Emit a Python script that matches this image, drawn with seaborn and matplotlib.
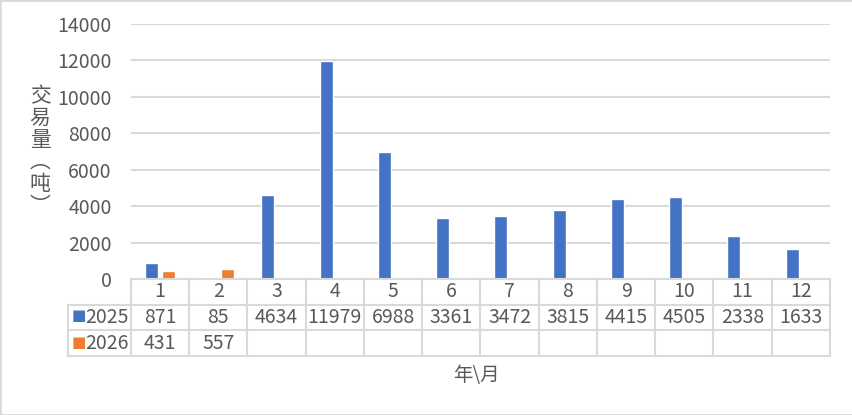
import numpy as np
import pandas as pd
import matplotlib
matplotlib.use("Agg")
import matplotlib.pyplot as plt
import seaborn as sns
from matplotlib.patches import Rectangle

# 数据
months = [str(m) for m in range(1, 13)]
vol_2025 = [871, 85, 4634, 11979, 6988, 3361, 3472, 3815, 4415, 4505, 2338, 1633]
vol_2026 = [431, 557] + [None] * 10
series = ["2025", "2026"]
colors = ["#4472C4", "#ED7D31"]
yticks = [0, 2000, 4000, 6000, 8000, 10000, 12000, 14000]

df = pd.DataFrame({
    "月": months * 2,
    "年": ["2025"] * 12 + ["2026"] * 12,
    "交易量": [np.nan if v is None else v for v in vol_2025 + vol_2026],
})

sns.set_theme(style="white")
plt.rcParams["font.family"] = ["Noto Sans CJK SC", "DejaVu Sans"]
txt = "#595959"
grid_c = "#D9D9D9"

W, H = 853, 415
fig = plt.figure(figsize=(W / 100, H / 100), dpi=100)
left, right, top, bottom = 131, 830, 24, 279
ax = fig.add_axes([left / W, 1 - bottom / H, (right - left) / W, (bottom - top) / H])

sns.barplot(data=df, x="月", y="交易量", hue="年", hue_order=series, order=months,
            palette=colors, saturation=1, width=0.6, gap=0.25, errorbar=None,
            ax=ax, legend=False)

fs = 14
ax.set_xlim(-0.5, 11.5)
ax.set_ylim(0, 14000)
ax.set_yticks(yticks)
ax.set_yticklabels([str(t) for t in yticks], fontsize=fs, color=txt)
ax.tick_params(axis="y", length=0, pad=14)
ax.set_xticks([])
ax.set_xlabel("")
ax.set_ylabel("")
for s in ax.spines.values():
    s.set_visible(False)
ax.yaxis.grid(True, color=grid_c, linewidth=1.5)
ax.set_axisbelow(True)

# 数据表
tr = ax.get_xaxis_transform()
row_h = 25.7 / (bottom - top)
rows_y = [0, -row_h, -2 * row_h, -3 * row_h]
leg_x = -0.5 - (left - 68) / ((right - left) / 12)
lk = dict(color=grid_c, linewidth=1.5, clip_on=False, transform=tr)
ax.plot([-0.5, 11.5], [0, 0], **lk)
for y in rows_y[1:]:
    ax.plot([leg_x, 11.5], [y, y], **lk)
for k in range(13):
    ax.plot([k - 0.5, k - 0.5], [0, rows_y[3]], **lk)
ax.plot([leg_x, leg_x], [rows_y[1], rows_y[3]], **lk)

for i, m in enumerate(months):
    ax.text(i, (rows_y[0] + rows_y[1]) / 2, m, transform=tr, ha="center", va="center",
            fontsize=fs, color=txt)
for r, (name, vals, c) in enumerate(zip(series, [vol_2025, vol_2026], colors)):
    yc = (rows_y[r + 1] + rows_y[r + 2]) / 2
    for i, v in enumerate(vals):
        if v is not None:
            ax.text(i, yc, str(v), transform=tr, ha="center", va="center",
                    fontsize=fs, color=txt)
    fig.text(72 / W, 1 - (304 + 26 * r + 12) / H, "■", color=c, fontsize=11,
             ha="left", va="center", family=["DejaVu Sans"])
    fig.text(85 / W, 1 - (304 + 26 * r + 13) / H, name, color=txt, fontsize=fs,
             ha="left", va="center")

fig.text(476 / W, 1 - 375 / H, "年\\月", ha="center", va="center", fontsize=fs, color=txt)
fig.text(40 / W, 1 - 151 / H, "\n".join("交易量︵吨︶"), ha="center", va="center",
         fontsize=15, color=txt, linespacing=1.0)

fig.patches.append(Rectangle((0, 0), 1, 1, transform=fig.transFigure, fill=False,
                             edgecolor=grid_c, linewidth=2))

fig.savefig("out.png", dpi=100)
